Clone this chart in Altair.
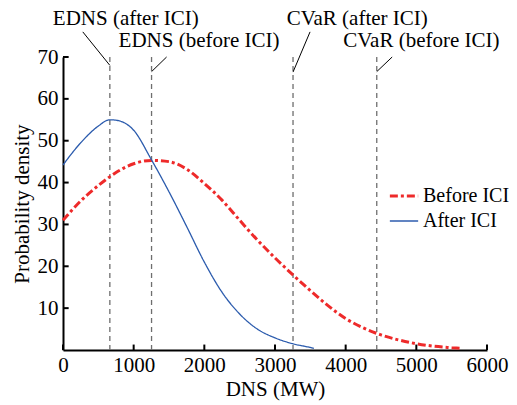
import altair as alt
import pandas as pd

# ---- data ----
series_names = ["Before ICI", "After ICI"]

x_after = [0, 250, 500, 660, 750, 1000, 1250, 1500, 1750, 2000, 2250, 2500, 2750, 3000, 3250, 3500, 3550]
y_after = [44.2, 49.5, 53.5, 55.0, 54.9, 52.5, 45.5, 37.8, 29.5, 21.0, 13.8, 8.6, 5.0, 2.9, 1.5, 0.6, 0.4]

x_before = [0, 250, 500, 750, 1000, 1250, 1500, 1750, 2000, 2250, 2500, 2750, 3000, 3250,
            3500, 3750, 4000, 4250, 4500, 4750, 5000, 5250, 5500, 5620]
y_before = [31.0, 35.6, 39.3, 42.4, 44.5, 45.3, 45.0, 43.2, 39.8, 35.8, 31.0, 26.3, 22.0, 18.0,
            14.2, 10.6, 7.5, 5.3, 3.6, 2.4, 1.5, 0.9, 0.55, 0.4]

vline_x = [663, 1253, 3255, 4440]

ann_text = ["EDNS (after ICI)", "EDNS (before ICI)", "CVaR (after ICI)", "CVaR (before ICI)"]
ann_x = [888, 1925, 4164, 5071]
ann_y = [77.7, 72.4, 77.7, 72.4]

conn_x1 = [280, 1466, 3496, 4658]
conn_y1 = [76.0, 70.0, 76.0, 70.0]
conn_x2 = [663, 1253, 3255, 4440]
conn_y2 = [68.0, 66.5, 66.4, 66.5]

x_ticks = [0, 1000, 2000, 3000, 4000, 5000, 6000]
y_ticks = [10, 20, 30, 40, 50, 60, 70]

# ---- tables ----
curves = pd.concat([
    pd.DataFrame({"x": x_before, "y": y_before, "series": series_names[0]}),
    pd.DataFrame({"x": x_after, "y": y_after, "series": series_names[1]}),
])
vlines = pd.DataFrame({"x": vline_x})
ann = pd.DataFrame({"x": ann_x, "y": ann_y, "t": ann_text})
conn = pd.DataFrame({"x": conn_x1, "y": conn_y1, "x2": conn_x2, "y2": conn_y2})
xt = pd.DataFrame({"x": x_ticks, "y0": [0] * len(x_ticks), "y1": [1.3] * len(x_ticks)})
yt = pd.DataFrame({"y": y_ticks, "x0": [0] * len(y_ticks), "x1": [80] * len(y_ticks)})

FONT = "Liberation Serif"
FS = 21
xs = alt.Scale(domain=[0, 6000], nice=False, zero=False)
ys = alt.Scale(domain=[0, 70], nice=False)

X = alt.X("x:Q", scale=xs, axis=alt.Axis(values=x_ticks, title="DNS (MW)", format="d"))
Y = alt.Y("y:Q", scale=ys, axis=alt.Axis(values=y_ticks, title="Probability density"))

leg = dict(title=None, orient="none", legendX=325, legendY=123)

lines = alt.Chart(curves).mark_line(interpolate="monotone", clip=False).encode(
    x=X, y=Y,
    color=alt.Color("series:N", scale=alt.Scale(domain=series_names, range=["#EE2A2A", "#2B5BAD"]),
                    legend=alt.Legend(symbolType="stroke", symbolSize=800, labelFont=FONT,
                                      labelFontSize=20, labelColor="black", labelOffset=3,
                                      rowPadding=-4, padding=0, **leg)),
    strokeDash=alt.StrokeDash("series:N", scale=alt.Scale(domain=series_names, range=[[8, 3, 3, 3], [1, 0]]),
                              legend=alt.Legend(**leg)),
    strokeWidth=alt.StrokeWidth("series:N", scale=alt.Scale(domain=series_names, range=[3.0, 1.3]),
                                legend=alt.Legend(**leg)),
    detail="series:N",
)

dashed = alt.Chart(vlines).mark_rule(color="#6E6E6E", strokeWidth=1.3, strokeDash=[5, 4]).encode(
    x=alt.X("x:Q", scale=xs), y=alt.datum(0), y2=alt.datum(70)
)

texts = alt.Chart(ann).mark_text(font=FONT, fontSize=FS, color="black", baseline="alphabetic",
                                  align="center", clip=False).encode(
    x=alt.X("x:Q", scale=xs), y=alt.Y("y:Q", scale=ys), text="t:N"
)

connectors = alt.Chart(conn).mark_rule(color="black", strokeWidth=1, clip=False).encode(
    x=alt.X("x:Q", scale=xs), y=alt.Y("y:Q", scale=ys), x2="x2:Q", y2="y2:Q"
)

xtick_marks = alt.Chart(xt).mark_rule(color="black", strokeWidth=2).encode(
    x=alt.X("x:Q", scale=xs), y=alt.Y("y0:Q", scale=ys), y2="y1:Q"
)
ytick_marks = alt.Chart(yt).mark_rule(color="black", strokeWidth=2).encode(
    y=alt.Y("y:Q", scale=ys), x=alt.X("x0:Q", scale=xs), x2="x1:Q"
)

chart = alt.layer(dashed, lines, connectors, texts, xtick_marks, ytick_marks).properties(
    width=424, height=293,
    autosize=alt.AutoSizeParams(type="none"),
    padding={"left": 63, "top": 57, "right": 30, "bottom": 55},
).configure_view(stroke=None).configure_axis(
    domainColor="black", domainWidth=2, ticks=False, grid=False,
    labelFont=FONT, labelFontSize=FS, labelColor="black", labelFlush=False, labelOverlap=False,
    titleFont=FONT, titleFontSize=FS, titleFontWeight="normal", titleColor="black",
).configure_axisX(labelPadding=4, titlePadding=3).configure_axisY(labelPadding=5, titlePadding=5)

chart.save("out.html", embed_options={"renderer": "svg", "actions": False})
